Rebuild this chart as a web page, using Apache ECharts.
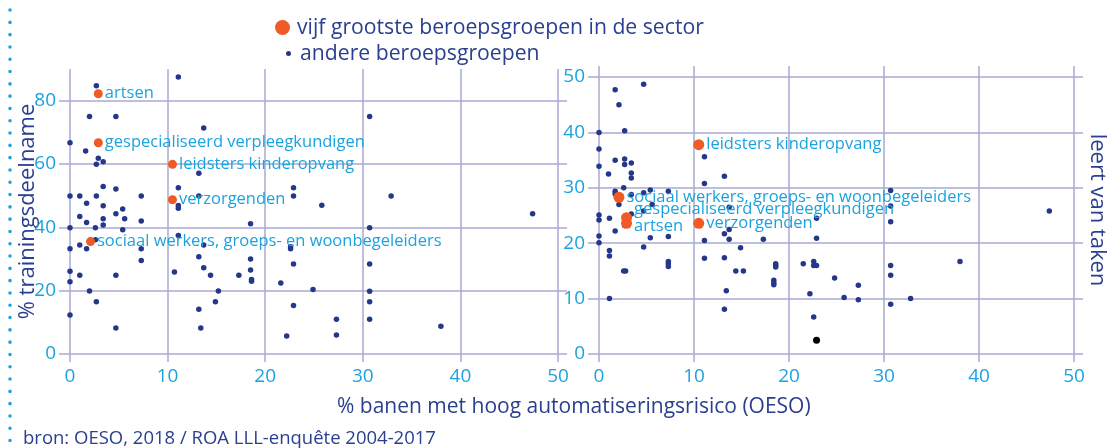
<!DOCTYPE html>
<html>
<head>
<meta charset="utf-8">
<script src="https://cdn.jsdelivr.net/npm/echarts@6/dist/echarts.min.js"></script>
<style>
    html, body { margin: 0; padding: 0; background: #fff; }
    #id-div-chart { width: 1109px; height: 448px; }
</style>
</head>
<body>
<div id="id-div-chart"></div>
<script>
var log = console.log.bind(console)

// vijf grootste beroepsgroepen
var mainNames = ['artsen', 'gespecialiseerd verpleegkundigen', 'leidsters kinderopvang', 'verzorgenden', 'sociaal werkers, groeps- en woonbegeleiders']
var mainRisk = [2.9, 2.9, 10.5, 10.5, 2.1]
var mainTraining = [82.2, 66.7, 59.9, 48.7, 35.5]
var mainTasks = [23.6, 24.6, 37.8, 23.6, 28.3]

// andere beroepsgroepen, [risico, trainingsdeelname]
var otherTraining = [
    [2.7, 84.7], [11.1, 87.5], [2.0, 75.0], [4.7, 75.0], [13.7, 71.4], [0, 66.7], [1.6, 64.1],
    [2.9, 61.8], [3.4, 60.7], [2.7, 59.9], [13.2, 57.1], [3.4, 52.9], [4.7, 52.1], [11.1, 52.5],
    [0, 49.9], [1.0, 49.9], [2.7, 49.9], [7.3, 49.9], [13.2, 49.9], [1.7, 47.6], [3.4, 46.8],
    [11.1, 46.9], [11.1, 46.0], [5.4, 45.8], [4.7, 44.3], [1.0, 43.4], [5.6, 42.7], [3.4, 42.7],
    [7.3, 42.0], [1.7, 41.5], [3.4, 40.7], [18.5, 41.1], [0, 39.9], [2.6, 39.9], [5.4, 39.2],
    [11.1, 37.4], [2.6, 36.1], [0, 33.2], [1.0, 34.4], [1.7, 33.2], [7.3, 33.2], [13.7, 34.4],
    [13.2, 30.7], [18.5, 30.0], [30.7, 75.0], [22.9, 52.5], [22.9, 49.9], [25.8, 47.0], [32.9, 49.9],
    [47.4, 44.3], [30.7, 39.9], [22.6, 33.9], [22.6, 33.2], [7.3, 29.5], [0, 26.1], [0, 22.8],
    [1.0, 24.9], [4.7, 24.9], [2.0, 19.9], [2.7, 16.5], [0, 12.3], [4.7, 8.2], [10.7, 25.9],
    [13.7, 27.2], [14.4, 24.9], [13.2, 14.1], [13.4, 8.2], [14.9, 16.5], [15.2, 19.9], [17.3, 24.9],
    [18.5, 26.5], [18.6, 23.5], [18.6, 23.0], [21.6, 22.4], [22.2, 5.7], [22.9, 28.4], [22.9, 15.3],
    [24.9, 20.4], [27.3, 11.0], [27.3, 6.0], [30.7, 28.4], [30.7, 19.8], [30.7, 16.5], [30.7, 11.0],
    [38.0, 8.8],
]

// andere beroepsgroepen, [risico, leert van taken]
var otherTasks = [
    [1.7, 47.7], [2.1, 45.0], [4.7, 48.7], [2.7, 40.3], [0, 40.0], [0, 37.0], [0, 33.9], [1.0, 32.5],
    [1.7, 35.0], [2.7, 35.2], [2.7, 34.2], [3.4, 34.5], [3.4, 32.7], [3.4, 31.8], [11.1, 35.6],
    [13.2, 32.1], [11.1, 30.8], [2.6, 30.0], [1.7, 29.4], [1.7, 28.9], [2.1, 27.0], [3.4, 28.8],
    [4.7, 29.1], [5.4, 29.6], [5.6, 27.0], [7.3, 29.4], [4.7, 25.8], [3.4, 25.3], [0, 25.1],
    [0, 24.2], [1.1, 24.5], [2.7, 23.2], [1.7, 22.2], [13.7, 26.5], [13.7, 22.5], [13.2, 21.7],
    [22.9, 24.5], [22.9, 20.9], [0, 21.3], [0, 20.1], [5.4, 21.0], [7.3, 21.2], [4.7, 19.3],
    [11.1, 20.5], [13.7, 20.7], [14.9, 19.2], [17.3, 20.7], [1.1, 18.7], [1.1, 17.7], [7.3, 16.7],
    [7.3, 16.3], [7.3, 15.8], [2.6, 15.0], [2.8, 15.0], [1.1, 10.0], [11.1, 17.3], [13.2, 17.4],
    [14.4, 15.0], [15.2, 15.0], [13.4, 11.4], [13.2, 8.1], [18.6, 16.3], [18.6, 16.0], [18.6, 15.7],
    [18.4, 13.3], [18.4, 12.8], [18.4, 12.5], [21.5, 16.3], [22.6, 16.7], [22.6, 16.0], [22.9, 16.0],
    [22.2, 10.9], [22.6, 6.7], [24.8, 13.7], [25.8, 10.2], [27.3, 12.4], [27.3, 9.8], [30.7, 16.0],
    [30.7, 14.2], [30.7, 9.0], [32.8, 10.0], [38.0, 16.7], [30.7, 29.5], [30.7, 26.7], [30.7, 23.9],
    [47.4, 25.8],
]
var blackTasks = [[22.9, 2.5]]

var riskTicks = [0, 10, 20, 30, 40, 50]
var trainingTicks = [0, 20, 40, 60, 80]
var taskTicks = [0, 10, 20, 30, 40, 50]

var legendMain = 'vijf grootste beroepsgroepen in de sector'
var legendOther = 'andere beroepsgroepen'
var xTitle = '% banen met hoog automatiseringsrisico (OESO)'
var source = 'bron: OESO, 2018 / ROA LLL-enquête 2004-2017'

var gridColor = '#a9a9d3'
var darkBlue = '#2a3f8f'
var lightBlue = '#1ba3df'
var orange = '#ef5a25'
var font = "'Open Sans', 'Noto Sans', sans-serif"

var hidden = 'rgba(0,0,0,0)'
var lineColors = [gridColor, gridColor, gridColor, gridColor, gridColor, gridColor, hidden]

var xAxisFor = function(gridIndex) {
    return {
        type: 'value',
        gridIndex: gridIndex,
        min: 0,
        max: 50,
        interval: 10,
        axisLine: {show: false},
        axisTick: {show: true, length: 8, lineStyle: {color: gridColor, width: 1.5}},
        axisLabel: {
            customValues: riskTicks,
            color: lightBlue, fontSize: 19, fontFamily: font, margin: 13,
        },
        splitLine: {show: true, lineStyle: {color: gridColor, width: 1.5}},
    }
}

var yAxisFor = function(gridIndex, max, ticks, side, labels) {
    var step = ticks[1] - ticks[0]
    var axis = {
        type: 'value',
        gridIndex: gridIndex,
        position: side,
        min: 0,
        max: max,
        interval: step,
        axisLine: {show: false},
        axisTick: {
            show: true, customValues: ticks,
            length: side == 'left' ? 11 : 9,
            lineStyle: {color: gridColor, width: 1.5},
        },
        axisLabel: {
            show: labels, customValues: ticks,
            color: lightBlue, fontSize: 19, fontFamily: font, margin: 14,
        },
        splitLine: {show: labels, lineStyle: {color: lineColors, width: 1.5}},
    }
    return axis
}

var mainData = function(values) {
    var data = []
    for (var i = 0; i < mainNames.length; i++) {
        data.push({name: mainNames[i], value: [mainRisk[i], values[i]]})
    }
    return data
}

var mainSeries = function(gridIndex, yIndex, values, size, offsets) {
    var data = mainData(values)
    for (var i = 0; i < data.length; i++) {
        var off = offsets[data[i].name]
        if (off != undefined) {
            data[i].label = {offset: off}
        }
    }
    return {
        name: legendMain,
        type: 'scatter',
        xAxisIndex: gridIndex,
        yAxisIndex: yIndex,
        symbolSize: size,
        clip: false,
        z: 3,
        itemStyle: {color: orange, opacity: 1},
        label: {
            show: true,
            position: 'right',
            distance: 2,
            formatter: '{b}',
            color: lightBlue,
            fontSize: 16.5,
            fontFamily: font,
        },
        data: data,
    }
}

var otherSeries = function(gridIndex, yIndex, points) {
    return {
        name: legendOther,
        type: 'scatter',
        xAxisIndex: gridIndex,
        yAxisIndex: yIndex,
        symbolSize: 5.5,
        clip: false,
        z: 2,
        itemStyle: {color: '#24378a', opacity: 1},
        data: points,
    }
}

var tasksOther = otherTasks.slice()
for (var i = 0; i < blackTasks.length; i++) {
    tasksOther.push({value: blackTasks[i], symbolSize: 7, itemStyle: {color: '#000'}})
}

var option = {
    backgroundColor: '#fff',
    animation: false,
    textStyle: {fontFamily: font},
    title: [
        {
            text: xTitle, left: 332, top: 392,
            textStyle: {color: darkBlue, fontSize: 21, fontWeight: 'normal', fontFamily: font},
        },
        {
            text: source, left: 18, top: 424,
            textStyle: {color: darkBlue, fontSize: 18.5, fontWeight: 'normal', fontFamily: font},
        },
    ],
    legend: [
        {
            data: [legendMain], left: 270, top: 12,
            icon: 'circle', itemWidth: 15, itemHeight: 15, itemGap: 0,
            selectedMode: false,
            textStyle: {color: darkBlue, fontSize: 21.2, fontFamily: font, padding: [0, 0, 0, 2]},
        },
        {
            data: [legendOther], left: 281, top: 38,
            icon: 'circle', itemWidth: 5, itemHeight: 5,
            selectedMode: false,
            textStyle: {color: darkBlue, fontSize: 21.2, fontFamily: font, padding: [0, 0, 0, 4]},
        },
    ],
    grid: [
        {left: 70, top: 69, width: 488, height: 285},
        {left: 599, top: 66, width: 478, height: 288},
    ],
    xAxis: [xAxisFor(0), xAxisFor(1)],
    yAxis: [
        Object.assign(yAxisFor(0, 90, trainingTicks, 'left', true), {
            name: '% trainingsdeelname', nameLocation: 'middle', nameGap: 31, nameRotate: 90,
            nameMoveOverlap: false,
            nameTextStyle: {color: darkBlue, fontSize: 22, fontFamily: font},
        }),
        yAxisFor(0, 90, trainingTicks, 'right', false),
        yAxisFor(1, 52, taskTicks, 'left', true),
        Object.assign(yAxisFor(1, 52, taskTicks, 'right', false), {
            name: 'leert van taken', nameLocation: 'middle', nameGap: 12, nameRotate: -90,
            nameMoveOverlap: false,
            nameTextStyle: {color: darkBlue, fontSize: 22, fontFamily: font},
        }),
    ],
    graphic: [
        {
            type: 'line',
            shape: {x1: 10, y1: 10, x2: 10, y2: 446},
            style: {stroke: lightBlue, lineWidth: 3.5, lineDash: [0.1, 12.2], lineCap: 'round'},
        },
    ],
    series: [
        otherSeries(0, 0, otherTraining),
        mainSeries(0, 0, mainTraining, 9, {}),
        otherSeries(1, 2, tasksOther),
        mainSeries(1, 2, mainTasks, 11, {
            'gespecialiseerd verpleegkundigen': [0, -8],
            'artsen': [0, 3],
        }),
    ],
}

var __main = function() {
    var chart = echarts.init(document.querySelector('#id-div-chart'))
    chart.setOption(option)
}

__main()
</script>
</body>
</html>
